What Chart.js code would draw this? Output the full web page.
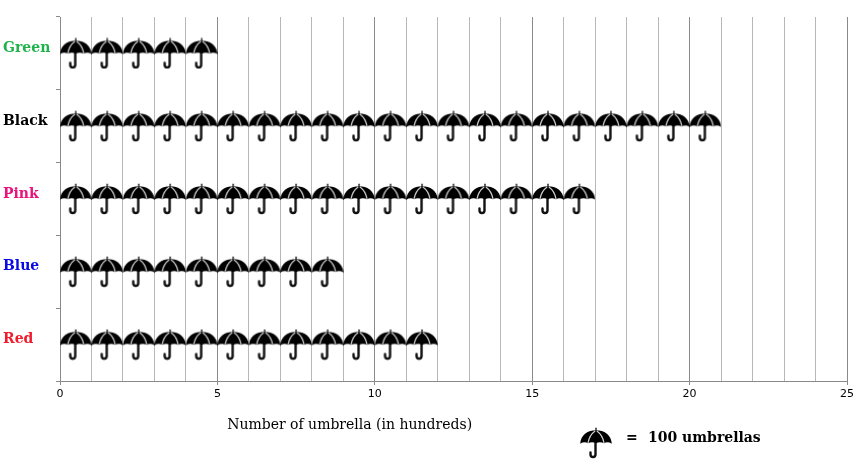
<!DOCTYPE html>
<html>
<head>
<meta charset="utf-8">
<script src="https://cdn.jsdelivr.net/npm/chart.js@4.4.0/dist/chart.umd.min.js"></script>
<style>
  html, body { margin: 0; padding: 0; background: #fff; }
  #wrap { width: 864px; height: 476px; }
</style>
</head>
<body>
<div id="wrap"><canvas id="canvas_umbrella"></canvas></div>
<script>
// umbrellas sold per colour, in hundreds (1 icon = 100)
const colours = ["Green", "Black", "Pink", "Blue", "Red"];
const umbrellas = [5, 21, 17, 9, 12];
const labelColours = ["#1fb24a", "#000000", "#e8137c", "#0a0ae0", "#ee1c2c"];
const xTicks = [0, 5, 10, 15, 20, 25];

function makeUmbrella() {
  const c = document.createElement("canvas");
  c.width = 32;
  c.height = 32;
  const ctx = c.getContext("2d");
  // handle
  ctx.strokeStyle = "#111";
  ctx.lineWidth = 2.4;
  ctx.lineCap = "round";
  ctx.beginPath();
  ctx.moveTo(15.5, 15);
  ctx.lineTo(15.5, 27.5);
  ctx.arc(13, 27.5, 2.5, 0, Math.PI, false);
  ctx.lineTo(10.5, 25.5);
  ctx.stroke();
  // canopy
  ctx.fillStyle = "#000";
  ctx.beginPath();
  ctx.moveTo(0.2, 16.8);
  ctx.bezierCurveTo(0.8, 7.5, 8, 3.2, 16, 3.2);
  ctx.bezierCurveTo(24, 3.2, 31.2, 7.5, 31.8, 16.8);
  ctx.quadraticCurveTo(27.8, 14.2, 24, 16.2);
  ctx.quadraticCurveTo(20, 14.2, 16, 16.2);
  ctx.quadraticCurveTo(12, 14.2, 8, 16.2);
  ctx.quadraticCurveTo(4.2, 14.2, 0.2, 16.8);
  ctx.fill();
  // tip
  ctx.strokeStyle = "#000";
  ctx.lineWidth = 1.2;
  ctx.beginPath();
  ctx.moveTo(16, 4);
  ctx.lineTo(16, 1.2);
  ctx.stroke();
  // ribs
  ctx.strokeStyle = "#d0d0d0";
  ctx.lineWidth = 1.2;
  ctx.beginPath();
  ctx.moveTo(14.8, 4.2);
  ctx.quadraticCurveTo(9.5, 8, 8, 15.8);
  ctx.moveTo(17.2, 4.2);
  ctx.quadraticCurveTo(22.5, 8, 24, 15.8);
  ctx.stroke();
  return c;
}

const umbrellaImg = makeUmbrella();

// one icon per hundred, centred in its unit cell
const points = [];
colours.forEach((name, i) => {
  for (let k = 0; k < umbrellas[i]; k++) {
    points.push({ x: k + 0.5, y: name });
  }
});

const keyPlugin = {
  id: "key",
  afterDraw(chart) {
    const ctx = chart.ctx;
    const x = chart.scales.x;
    ctx.save();
    ctx.fillStyle = "#000";
    ctx.textBaseline = "middle";
    ctx.textAlign = "center";
    ctx.font = "14px 'DejaVu Serif'";
    ctx.fillText("Number of umbrella (in hundreds)", x.getPixelForValue(9.2), 425);
    ctx.drawImage(umbrellaImg, 580, 427);
    ctx.textAlign = "left";
    ctx.font = "bold 14px 'DejaVu Serif'";
    ctx.fillText("=", 626, 438);
    ctx.fillText("100 umbrellas", 648, 438);
    ctx.restore();
  },
};

const config = {
  type: "scatter",
  data: {
    datasets: [
      {
        data: points,
        pointStyle: umbrellaImg,
        pointRadius: 16,
        pointHoverRadius: 16,
      },
    ],
  },
  options: {
    responsive: true,
    maintainAspectRatio: false,
    animation: false,
    layout: {
      padding: { left: 3, right: 17, top: 15, bottom: 0 },
    },
    scales: {
      x: {
        type: "linear",
        min: 0,
        max: 25,
        afterFit: (scale) => {
          scale.height = 95;
        },
        afterBuildTicks: (scale) => {
          const t = [];
          for (let v = 0; v <= 25; v++) t.push({ value: v });
          scale.ticks = t;
        },
        ticks: {
          autoSkip: false,
          maxRotation: 0,
          padding: 3,
          color: "#000",
          font: { family: "DejaVu Sans", size: 11 },
          callback: (v) => (xTicks.includes(v) ? String(v) : ""),
        },
        grid: {
          color: (c) => (c.tick && c.tick.value % 5 === 0 ? "#8a8a8a" : "#b8b8b8"),
          tickColor: (c) => (c.tick && c.tick.value % 5 === 0 ? "#8a8a8a" : "rgba(0,0,0,0)"),
          tickLength: 4,
          lineWidth: 1,
        },
        border: { color: "#8a8a8a" },
      },
      y: {
        type: "category",
        labels: colours,
        offset: true,
        afterFit: (scale) => {
          scale.width = 57;
        },
        ticks: {
          crossAlign: "far",
          labelOffset: -5,
          color: (c) => labelColours[c.index],
          font: { family: "DejaVu Serif", size: 14, weight: "bold" },
        },
        grid: {
          offset: true,
          drawOnChartArea: false,
          color: "#8a8a8a",
          tickLength: 4,
        },
        border: { color: "#8a8a8a" },
      },
    },
    plugins: {
      legend: { display: false },
      tooltip: { enabled: false },
      title: { display: false },
    },
  },
  plugins: [keyPlugin],
};

window.chart = new Chart(document.getElementById("canvas_umbrella"), config);
</script>
</body>
</html>
